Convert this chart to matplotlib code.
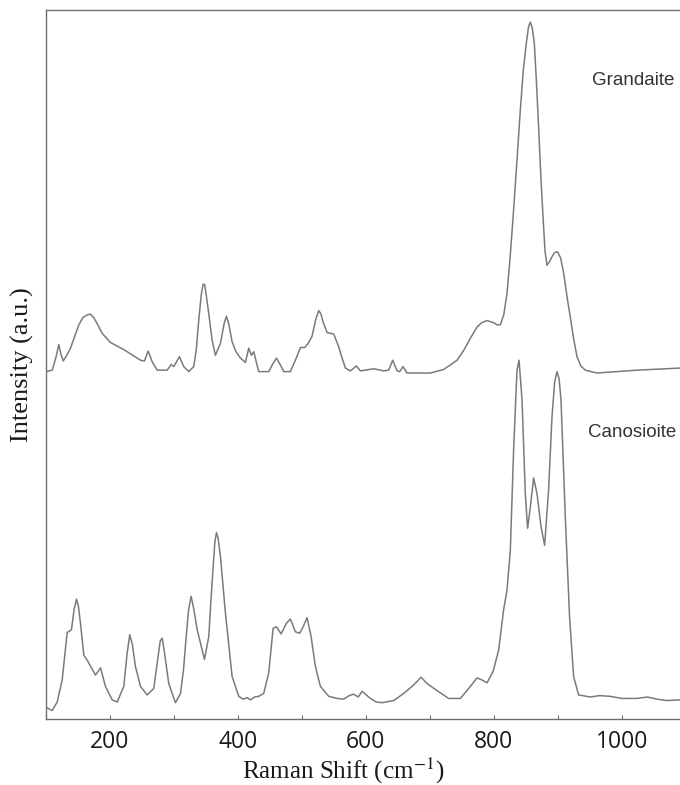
import matplotlib
matplotlib.use("Agg")
import matplotlib.pyplot as plt
from matplotlib.ticker import MultipleLocator

# ------------------------------------------------------------
#  Raman spectra (x in cm-1, y in a.u.)
# ------------------------------------------------------------

grandaite_x = [
    101, 109.7, 115.5, 120, 123.5, 126.9, 132.5, 138.3, 145.0, 151.3,
    157.5, 164.4, 169.5, 174.7, 181.0, 187.8, 200.8, 221.6, 247.7, 253.9,
    259.7, 265.9, 273.8, 289.4, 295.6, 299.7, 308.6, 315.3, 323.1, 330.9,
    334.8, 338.8, 342.8, 345.5, 348.0, 350.3, 354.4, 359.5, 364.8, 372.7,
    378.5, 382.0, 385.5, 390.9, 397.0, 403.9, 411.7, 416.9, 421.1, 424.7,
    432.5, 448.1, 454.0, 460.2, 466.0, 471.6, 482.0, 489.8, 497.7, 504.4,
    510.0, 515.9, 521.5, 526.3, 529.5, 533.1, 539.4, 549.7, 557.5, 562.5,
    568.0, 575.8, 585.2, 591.4, 612.2, 627.8, 635.6, 641.9, 648.8, 652.8,
    658.1, 664.4, 700.8, 721.6, 742.5, 753.0, 763.3, 773.8, 781.0, 789.4,
    799.7, 805.0, 810.2, 815.5, 820.6, 825.8, 830.9, 836.2, 841.4, 846.0,
    850.8, 854.0, 857.0, 860.0, 863.3, 866.5, 870.0, 873.5, 876.9, 880.0,
    883.1, 887.0, 890.9, 895.0, 899.7, 904.5, 909.1, 914.5, 919.5, 925.0,
    930.0, 936.0, 943.0, 961.3, 1023.8, 1091.4,
]
grandaite_y = [
    3.0, 3.2, 5.0, 6.8, 5.4, 4.5, 5.3, 6.3, 8.0, 9.6,
    10.6, 11.0, 11.1, 10.6, 9.6, 8.4, 7.1, 6.1, 4.6, 4.5,
    5.9, 4.4, 3.2, 3.2, 4.0, 3.7, 5.1, 3.7, 3.0, 3.7,
    6.0, 10.3, 13.9, 15.3, 15.3, 13.9, 11.2, 7.5, 5.3, 7.0,
    9.8, 10.8, 9.8, 7.2, 5.8, 4.9, 4.3, 6.3, 5.3, 5.8,
    3.0, 3.0, 4.0, 4.9, 4.0, 3.0, 3.0, 4.6, 6.4, 6.4,
    7.0, 8.0, 10.3, 11.6, 11.2, 10.0, 8.5, 8.3, 6.5, 5.0,
    3.5, 3.1, 3.8, 3.1, 3.4, 3.1, 3.2, 4.6, 3.1, 3.0,
    3.7, 2.8, 2.8, 3.3, 4.6, 6.0, 7.7, 9.3, 9.9, 10.2,
    9.9, 9.6, 9.6, 11.0, 14.0, 19.5, 25.8, 32.8, 39.9, 45.5,
    49.3, 51.5, 52.3, 51.5, 49.3, 44.0, 37.5, 30.5, 24.8, 20.0,
    18.0, 18.5, 19.2, 19.8, 19.9, 19.0, 16.9, 13.5, 10.7, 7.5,
    5.1, 3.8, 3.2, 2.8, 3.2, 3.5,
]

canosioite_x = [
    100.8, 109.7, 117.5, 125.3, 133.1, 139.8, 144.0, 147.7, 150.5, 153.9,
    159.1, 164.4, 177.3, 185.2, 193.0, 203.4, 211.3, 221.6, 226.5, 230.9,
    235.0, 239.8, 247.7, 258.1, 268.4, 274.0, 278.5, 281.6, 285.0, 291.9,
    302.3, 310.2, 315.0, 319.1, 323.0, 326.9, 331.0, 336.3, 347.7, 354.4,
    358.0, 361.3, 364.0, 366.4, 369.0, 372.7, 380.5, 390.9, 401.3, 408.0,
    414.4, 419.5, 426.0, 432.5, 440.3, 448.1, 455.0, 460.2, 467.5, 475.8,
    482.0, 489.8, 496.6, 501.9, 508.1, 514.4, 521.1, 528.9, 541.9, 555.0,
    565.3, 574.0, 580.9, 588.0, 594.1, 607.0, 616.0, 625.3, 643.4, 659.1,
    674.7, 686.3, 695.6, 711.3, 729.4, 747.7, 760.6, 773.8, 781.6, 789.4,
    798.8, 807.5, 815.3, 820.6, 825.8, 830.9, 836.2, 839.4, 844.1, 849.2,
    852.8, 857.0, 862.2, 867.5, 873.8, 879.4, 885.6, 890.9, 895.0, 898.8,
    902.0, 905.0, 911.7, 918.4, 924.7, 932.5, 950.8, 965.0, 982.0, 1000.0,
    1023.8, 1040.0, 1055.0, 1070.0, 1091.4,
]
canosioite_y = [
    1.6, 1.2, 2.4, 5.5, 12.2, 12.6, 15.5, 16.9, 16.0, 13.5,
    9.0, 8.3, 6.2, 7.2, 4.6, 2.7, 2.4, 4.6, 9.0, 11.9,
    10.5, 7.4, 4.6, 3.4, 4.3, 8.0, 11.0, 11.4, 9.5, 5.0,
    2.3, 3.6, 7.0, 11.6, 15.5, 17.3, 15.5, 12.6, 8.4, 11.6,
    17.0, 21.5, 25.0, 26.3, 25.5, 22.9, 14.9, 6.0, 3.2, 2.8,
    3.0, 2.7, 3.1, 3.2, 3.6, 6.5, 12.8, 13.0, 12.0, 13.5,
    14.1, 12.3, 12.1, 13.0, 14.3, 11.6, 7.4, 4.6, 3.2, 2.9,
    2.8, 3.3, 3.5, 3.1, 3.9, 2.9, 2.4, 2.3, 2.6, 3.6,
    4.8, 5.9, 5.0, 4.0, 2.9, 2.9, 4.3, 5.8, 5.5, 5.1,
    6.7, 9.7, 15.4, 18.2, 23.8, 37.9, 49.2, 50.6, 45.0, 31.8,
    26.9, 29.9, 34.0, 31.8, 27.1, 24.5, 32.3, 42.6, 47.5, 49.0,
    48.0, 45.0, 28.5, 14.4, 6.0, 3.4, 3.1, 3.3, 3.2, 2.9,
    2.9, 3.1, 2.8, 2.6, 2.7,
]

GRANDAITE_OFFSET = 46.0   # vertical stacking of the upper spectrum
LINE_COLOR = "#7a7a7a"
SPINE_COLOR = "#6e6e6e"

plt.rcParams["mathtext.fontset"] = "stix"

fig = plt.figure(figsize=(6.8, 7.85), dpi=100)
ax = fig.add_axes([46 / 680, 1 - 719 / 785, 1 - 46 / 680, (719 - 10) / 785])

ax.plot(canosioite_x, canosioite_y, color=LINE_COLOR, lw=1.1)
ax.plot(grandaite_x, [v + GRANDAITE_OFFSET for v in grandaite_y],
        color=LINE_COLOR, lw=1.1)

ax.text(1018, 90.0, "Grandaite", family="Liberation Sans", fontsize=13.5,
        color="#333333", ha="center", va="center")
ax.text(1016, 40.4, "Canosioite", family="Liberation Sans", fontsize=13.5,
        color="#333333", ha="center", va="center")

ax.set_xlim(100, 1091)
ax.set_ylim(0, 100)

ax.xaxis.set_major_locator(MultipleLocator(200))
ax.xaxis.set_minor_locator(MultipleLocator(100))
ax.tick_params(axis="x", which="both", direction="in", length=3,
               width=0.8, color=SPINE_COLOR, pad=8)
ax.tick_params(axis="x", which="major", labelsize=16.5)
for lab in ax.get_xticklabels():
    lab.set_family("Open Sans")
    lab.set_color("#1a1a1a")
ax.set_yticks([])

for side in ("left", "bottom", "top"):
    ax.spines[side].set_color(SPINE_COLOR)
    ax.spines[side].set_linewidth(1.0)
ax.spines["right"].set_visible(False)

ax.set_xlabel("Raman Shift (cm$^{-1}$)", family="Liberation Serif",
              fontsize=18, color="#1a1a1a")
ax.xaxis.set_label_coords(0.468, -0.052)
ax.set_ylabel("Intensity (a.u.)", family="Liberation Serif",
              fontsize=19, color="#1a1a1a")
ax.yaxis.set_label_coords(-0.019, 0.5)

fig.savefig("out.png", dpi=100)
